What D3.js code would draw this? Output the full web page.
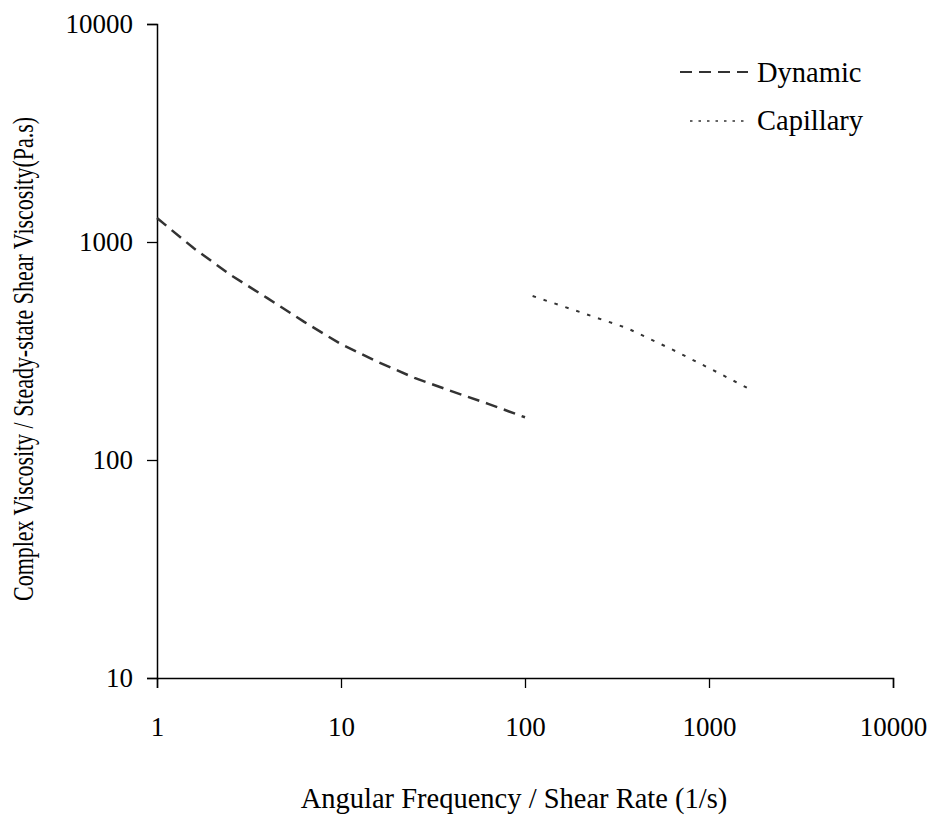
<!DOCTYPE html>
<html>
<head>
<meta charset="utf-8">
<script src="https://cdn.jsdelivr.net/npm/d3@7"></script>
<style>
  body { margin: 0; background: #fff; }
  text { font-family: "Liberation Serif", "Times New Roman", serif; fill: #000; }
</style>
</head>
<body>
<div id="chart"></div>
<script>
// data
var dynamicX = [1, 1.58, 2.51, 3.98, 6.31, 10, 15.8, 25.1, 39.8, 63.1, 100];
var dynamicY = [1288, 938, 706, 553, 430, 340, 282, 238, 207, 181, 157];
var capillaryX = [110, 199, 358, 637, 1105, 1650];
var capillaryY = [565, 477, 403, 320, 253, 212];
var xTicks = [1, 10, 100, 1000, 10000];
var yTicks = [10, 100, 1000, 10000];

var width = 933, height = 821;
var margin = {top: 24, right: 40, bottom: 143, left: 157};

var svg = d3.select("#chart").append("svg")
    .attr("width", width)
    .attr("height", height);

var x = d3.scaleLog().domain([1, 10000]).range([margin.left, width - margin.right]);
var y = d3.scaleLog().domain([10, 10000]).range([height - margin.bottom, margin.top]);

//x axis
var xAxis = svg.append("g")
    .attr("transform", "translate(0," + (height - margin.bottom) + ")")
    .call(d3.axisBottom(x).tickValues(xTicks).tickFormat(d3.format("d")).tickSize(10).tickPadding(29));
//y axis
var yAxis = svg.append("g")
    .attr("transform", "translate(" + margin.left + ",0)")
    .call(d3.axisLeft(y).tickValues(yTicks).tickFormat(d3.format("d")).tickSize(10).tickPadding(14));

[xAxis, yAxis].forEach(function (g) {
    g.attr("font-family", null).attr("font-size", null);
    g.select(".domain").attr("stroke", "#000").attr("stroke-width", 1.5);
    g.selectAll(".tick line").attr("stroke", "#000").attr("stroke-width", 1.3);
    g.selectAll(".tick text")
        .style("font-size", "27px")
        .attr("fill", "#000");
});

var line = d3.line()
    .x(function (d) { return x(d[0]); })
    .y(function (d) { return y(d[1]); });

svg.append("path")
    .datum(d3.zip(dynamicX, dynamicY))
    .attr("d", line)
    .attr("fill", "none")
    .attr("stroke", "#333")
    .attr("stroke-width", 2.5)
    .attr("stroke-dasharray", "12,7");

svg.append("path")
    .datum(d3.zip(capillaryX, capillaryY))
    .attr("d", line)
    .attr("fill", "none")
    .attr("stroke", "#333")
    .attr("stroke-width", 2)
    .attr("stroke-dasharray", "3.5,8");

//legend
var legend = svg.append("g");
legend.append("line")
    .attr("x1", 680).attr("x2", 748).attr("y1", 72).attr("y2", 72)
    .attr("stroke", "#333").attr("stroke-width", 1.8).attr("stroke-dasharray", "12,7");
legend.append("text")
    .attr("x", 757).attr("y", 82)
    .style("font-size", "28.5px")
    .text("Dynamic");
legend.append("line")
    .attr("x1", 690).attr("x2", 748).attr("y1", 121).attr("y2", 121)
    .attr("stroke", "#333").attr("stroke-width", 1.5).attr("stroke-dasharray", "2.5,6");
legend.append("text")
    .attr("x", 757).attr("y", 130)
    .style("font-size", "28.5px")
    .text("Capillary");

//axis titles
svg.append("text")
    .attr("x", 514)
    .attr("y", 808)
    .attr("text-anchor", "middle")
    .style("font-size", "28.5px")
    .text("Angular Frequency / Shear Rate (1/s)");

// y title is condensed along its length in the original
svg.append("text")
    .attr("transform", "translate(33,359) rotate(-90) scale(0.77,1)")
    .attr("text-anchor", "middle")
    .style("font-size", "28.5px")
    .text("Complex Viscosity / Steady-state Shear Viscosity(Pa.s)");
</script>
</body>
</html>
